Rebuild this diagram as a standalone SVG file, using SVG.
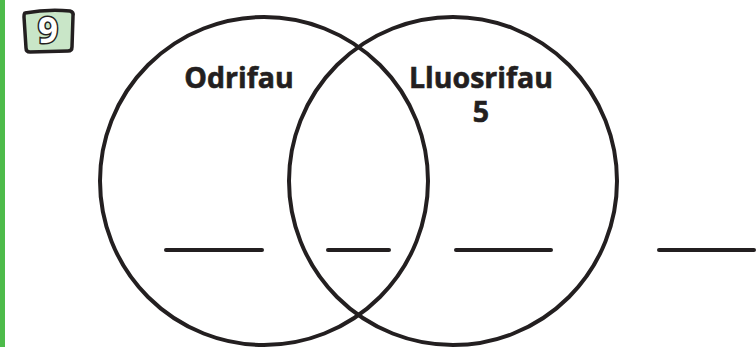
<svg xmlns="http://www.w3.org/2000/svg" width="756" height="347" viewBox="0 0 756 347">
<style>
.c{fill:none;stroke:#231f20;stroke-width:4}
.l{stroke:#231f20;stroke-width:4;stroke-linecap:round}
.t{font-family:"Open Sans",Lato,sans-serif;font-weight:bold;font-size:28.5px;fill:#231f20;stroke:#231f20;stroke-width:0.6;text-anchor:middle}
</style>
<rect x="0" y="0" width="5" height="347" fill="#4dbb4a"/>
<g id="badge">
<path d="M25,13 Q47,9 70,11 Q74,12 73,16 L72,47 Q72,51 68,51 L30,52 Q26,52 26,48 L24,17 Q24,13 25,13 Z" fill="#c9e6c8" stroke="#231f20" stroke-width="3.5" stroke-linejoin="round"/>
<text x="48" y="43" font-family="'Open Sans',sans-serif" font-weight="bold" font-size="35" text-anchor="middle" fill="#fff" stroke="#231f20" stroke-width="3" paint-order="stroke">9</text>
</g>
<g id="circle-left"><circle class="c" cx="264" cy="181" r="164"/></g>
<g id="circle-right"><circle class="c" cx="453" cy="181" r="164"/></g>
<g id="label-left"><text class="t" x="239" y="88">Odrifau</text></g>
<g id="label-right"><text class="t" x="481" y="88">Lluosrifau</text><text class="t" x="481" y="122">5</text></g>
<g id="blanks">
<line class="l" x1="166" y1="250" x2="262" y2="250"/>
<line class="l" x1="328" y1="250" x2="389" y2="250"/>
<line class="l" x1="456" y1="250" x2="551" y2="250"/>
<line class="l" x1="659" y1="250" x2="754" y2="250"/>
</g>
</svg>
